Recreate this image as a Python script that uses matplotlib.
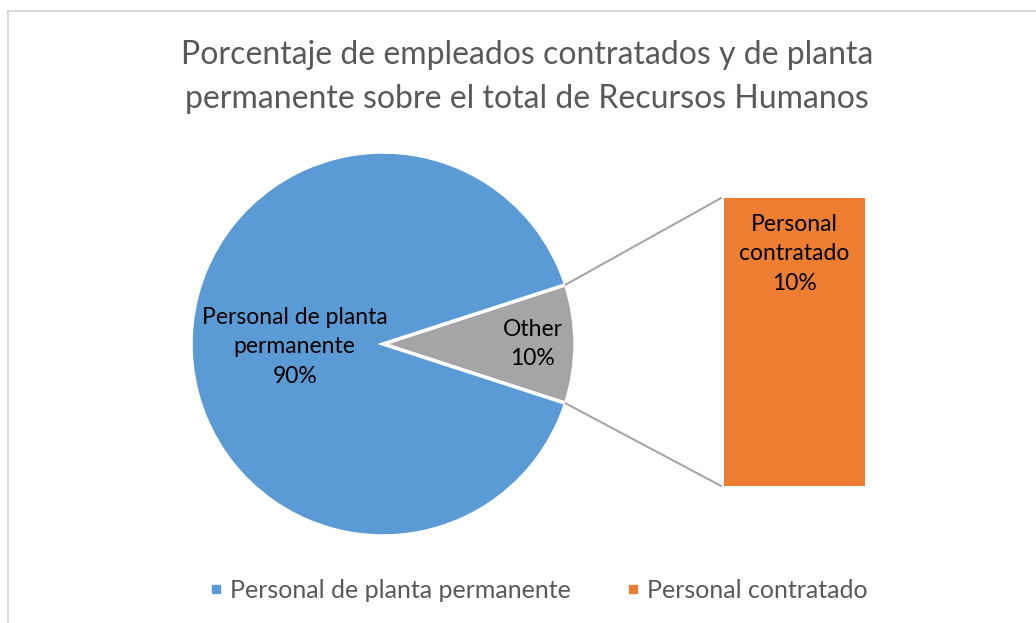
import matplotlib
matplotlib.use("Agg")
import matplotlib.pyplot as plt
from matplotlib.patches import ConnectionPatch
from matplotlib.lines import Line2D
import numpy as np

plt.rcParams['font.family'] = ['Lato', 'DejaVu Sans']

# datos
pie_labels = ['Other', 'Personal de planta permanente']
pie_values = [10, 90]
bar_label = 'Personal contratado'
bar_value = 10
title = 'Porcentaje de empleados contratados y de planta\npermanente sobre el total de Recursos Humanos'

c_blue = '#5B9BD5'
c_gray = '#A5A5A5'
c_orange = '#ED7D31'
c_text = '#595959'

W, H = 1036, 623
fig = plt.figure(figsize=(W / 100, H / 100), dpi=100)

def px_axes(x0, y0, x1, y1):
    # caja en pixeles (origen arriba a la izquierda)
    return fig.add_axes([x0 / W, 1 - y1 / H, (x1 - x0) / W, (y1 - y0) / H])

# pastel
ax1 = px_axes(191, 152, 575, 536)
other_angle = 360 * pie_values[0] / sum(pie_values)
ax1.pie(pie_values, colors=[c_gray, c_blue], startangle=-other_angle / 2,
        radius=1, wedgeprops=dict(edgecolor='white', linewidth=2.5))
ax1.set_xlim(-1, 1)
ax1.set_ylim(-1, 1)
ax1.set_aspect('auto')
ax1.axis('off')
ax1.text(-0.46, -0.015, 'Personal de planta\npermanente\n%d%%' % pie_values[1],
         ha='center', va='center', fontsize=16.5, color='black', linespacing=1.48)
ax1.text(0.78, 0.0, '%s\n%d%%' % (pie_labels[0], pie_values[0]),
         ha='center', va='center', fontsize=16.5, color='black', linespacing=1.48)

# barra
ax2 = px_axes(724, 198, 865, 486)
ax2.bar(0, bar_value, width=1, color=c_orange)
ax2.set_xlim(-0.5, 0.5)
ax2.set_ylim(0, bar_value)
ax2.axis('off')
ax2.text(0, bar_value * 0.806, 'Personal\ncontratado\n%d%%' % bar_value,
         ha='center', va='center', fontsize=16.5, color='black', linespacing=1.48)

# lineas de conexion
half = np.deg2rad(other_angle / 2)
for sgn, yb in [(1, bar_value), (-1, 0)]:
    con = ConnectionPatch(xyA=(np.cos(half), sgn * np.sin(half)), coordsA=ax1.transData,
                          xyB=(-0.52, yb), coordsB=ax2.transData,
                          color='#A6A6A6', linewidth=1.5)
    fig.add_artist(con)

# titulo
fig.text(527 / W, 1 - 77 / H, title, ha='center', va='center',
         fontsize=23, color=c_text, linespacing=1.55)

# leyenda
handles = [Line2D([], [], marker='s', linestyle='none', markersize=6, color=c_blue),
           Line2D([], [], marker='s', linestyle='none', markersize=6, color=c_orange)]
fig.legend(handles, [pie_labels[1], bar_label], loc='center', bbox_to_anchor=(537 / W, 1 - 590 / H),
           ncol=2, frameon=False, fontsize=18, labelcolor=c_text, handletextpad=0.15,
           columnspacing=2.1, handlelength=0.8)

# marco
fig.add_artist(Line2D([8 / W, 1], [1 - 11 / H, 1 - 11 / H], transform=fig.transFigure,
                      color='#D9D9D9', linewidth=1.5))
fig.add_artist(Line2D([8 / W, 8 / W], [1 - 11 / H, 0], transform=fig.transFigure,
                      color='#D9D9D9', linewidth=1.5))

fig.savefig('out.png', dpi=100)
